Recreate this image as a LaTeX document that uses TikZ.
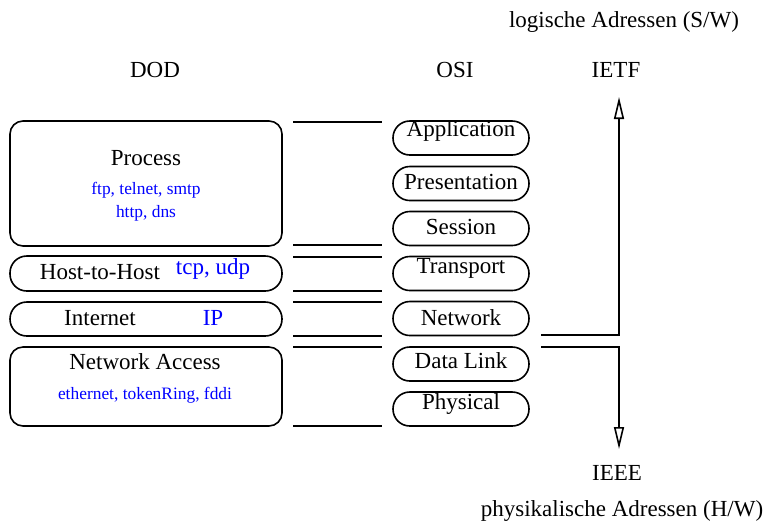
\documentclass[tikz,border=0pt]{standalone}
\usepackage{fontspec}
\setmainfont{Liberation Serif}
\usetikzlibrary{arrows.meta}
\begin{document}
\begin{tikzpicture}[x=0.5pt,y=-0.5pt,
  lw/.style={line width=0.8pt},
  dodbox/.style={draw,lw,rounded corners=6.5pt,minimum width=136pt,inner sep=0pt},
  pill/.style={draw,lw,rounded corners=8.4pt,minimum width=136pt,inner sep=0pt},
  osibox/.style={draw,lw,rounded corners=8.4pt,minimum width=68pt,minimum height=17pt,inner sep=0pt},
  lbl/.style={font=\fontsize{11.5}{13}\selectfont,inner sep=0pt},
  proto/.style={font=\fontsize{8.7}{10}\selectfont,text=blue,inner sep=0pt},
  protobig/.style={font=\fontsize{11.5}{13}\selectfont,text=blue,inner sep=0pt},
  sep/.style={lw},
  addr/.style={lw,-{Triangle[open,length=11pt,width=5pt]}}]
\useasboundingbox (0,0) rectangle (775,527);
% headings
\node[lbl] (logic) at (624,22) {logische Adressen (S/W)};
\node[lbl] (dod) at (155,70) {DOD};
\node[lbl] (osi) at (455,70) {OSI};
\node[lbl] (ietf) at (616,70) {IETF};
\node[lbl] (ieee) at (617,473) {IEEE};
\node[lbl] (phys) at (622,511) {physikalische Adressen (H/W)};
% DOD boxes
\node[dodbox,minimum height=62.5pt] (process) at (146,183.5) {};
\node[pill,minimum height=17.5pt] (hth) at (146,273.5) {};
\node[pill,minimum height=17pt] (inet) at (146,319) {};
\node[dodbox,minimum height=39.5pt] (nacc) at (146,386.5) {};
\node[lbl] (tprocess) at (146,158) {Process};
\node[proto] (pp1) at (146,190) {ftp, telnet, smtp};
\node[proto] (pp2) at (146,213) {http, dns};
\node[lbl] (thth) at (100,272) {Host-to-Host};
\node[protobig] (phth) at (213,269) {tcp, udp};
\node[lbl] (tinet) at (100,318) {Internet};
\node[protobig] (pinet) at (213,318) {IP};
\node[lbl] (tnacc) at (145,362) {Network Access};
\node[proto] (pnacc) at (145,395) {ethernet, tokenRing, fddi};
% separator lines
\foreach \y in {122,245,257,291,302,336,347,426}{
  \draw[sep] (293,\y) -- (382,\y);
}
% OSI boxes
\node[osibox] (app) at (461,138) {};
\node[lbl] at (461,131) {Application};
\node[osibox] (pres) at (461,183.5) {};
\node[lbl] at (461,182) {Presentation};
\node[osibox] (sess) at (461,228.5) {};
\node[lbl] at (461,227) {Session};
\node[osibox] (trans) at (461,273.5) {};
\node[lbl] at (461,268) {Transport};
\node[osibox] (net) at (461,318.5) {};
\node[lbl] at (461,318) {Network};
\node[osibox] (dl) at (461,364) {};
\node[lbl] at (461,361) {Data Link};
\node[osibox] (phy) at (461,409) {};
\node[lbl] at (461,404) {Physical};
% address arrows
\coordinate (upstart) at (541,335);
\coordinate (upend) at (619,97);
\coordinate (dnstart) at (541,347);
\coordinate (dnend) at (619,449);
\draw[addr] (upstart) -| (upend);
\draw[addr] (dnstart) -| (dnend);
\end{tikzpicture}
\end{document}
